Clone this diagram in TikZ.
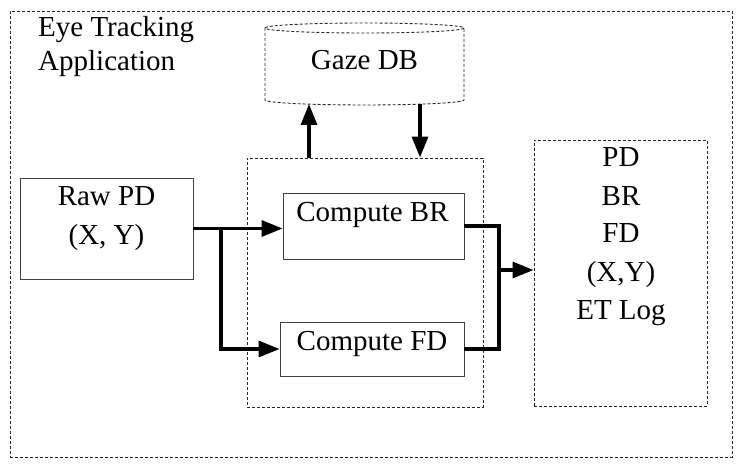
\documentclass[tikz,border=0pt]{standalone}
\usepackage{fontspec}
\setmainfont{Liberation Serif}
\usetikzlibrary{arrows.meta}
\begin{document}
\begin{tikzpicture}[x=1pt,y=-1pt,
  dbox/.style={draw=black!85, line width=0.9pt, dash pattern=on 3pt off 2pt, inner sep=0pt},
  dbline/.style={draw=black!85, line width=0.9pt, dash pattern=on 3pt off 2pt},
  sbox/.style={draw=black!75, line width=0.9pt, inner sep=0pt},
  lbl/.style={font=\fontsize{29}{34}\selectfont, anchor=base, inner sep=0pt},
  wire/.style={line width=3.3pt},
  arr/.style={line width=3.3pt, -{Triangle[length=21pt,width=16pt]}}]
\useasboundingbox (0,0) rectangle (745,468);

% outer application box
\node[dbox, minimum width=722pt, minimum height=446pt] (outer) at (371,234) {};
\node[lbl, anchor=base west] (title1) at (38,37) {Eye Tracking};
\node[lbl, anchor=base west] (title2) at (38,71) {Application};

% Gaze DB cylinder
\draw[dbline] (265,28) -- (265,100) arc[start angle=180, end angle=0, x radius=99.5, y radius=5] -- (464,28);
\draw[dbline] (364.5,28) ellipse[x radius=99.5, y radius=5];
\node[lbl] (gaze) at (364.5,70) {Gaze DB};
\coordinate (dbup) at (309,104);
\coordinate (dbdown) at (420,104);

% middle processing box
\node[dbox, minimum width=236pt, minimum height=249pt] (mid) at (365,282.5) {};

% Raw PD
\node[sbox, minimum width=173pt, minimum height=101pt] (raw) at (106.5,228.5) {};
\node[lbl] (rawt1) at (106.5,206) {Raw PD};
\node[lbl] (rawt2) at (106.5,244) {(X, Y)};

% Compute boxes
\node[sbox, minimum width=181pt, minimum height=66pt] (br) at (373.5,226) {};
\node[lbl] (brt) at (372.5,222) {Compute BR};
\node[sbox, minimum width=184pt, minimum height=54pt] (fd) at (372,349) {};
\node[lbl] (fdt) at (372,350) {Compute FD};

% output box
\node[dbox, minimum width=173pt, minimum height=266pt] (out) at (620.5,273) {};
\node[lbl] (o1) at (621,167) {PD};
\node[lbl] (o2) at (621,206) {BR};
\node[lbl] (o3) at (621,243) {FD};
\node[lbl] (o4) at (621,281) {(X,Y)};
\node[lbl] (o5) at (621,319) {ET Log};

% connectors
\draw[arr] (mid.north -| dbup) -- (dbup);
\draw[arr] (dbdown) -- (mid.north -| dbdown);

\coordinate (split) at (221,228.5);
\draw[arr] (raw.east) -- (raw.east -| br.west);
\draw[arr] (split) |- (fd.west);

\coordinate (jn) at (499,270);
\draw[wire] (br.east) -| (jn) |- (fd.east);
\draw[arr] (jn) -- (jn -| out.west);
\end{tikzpicture}
\end{document}
